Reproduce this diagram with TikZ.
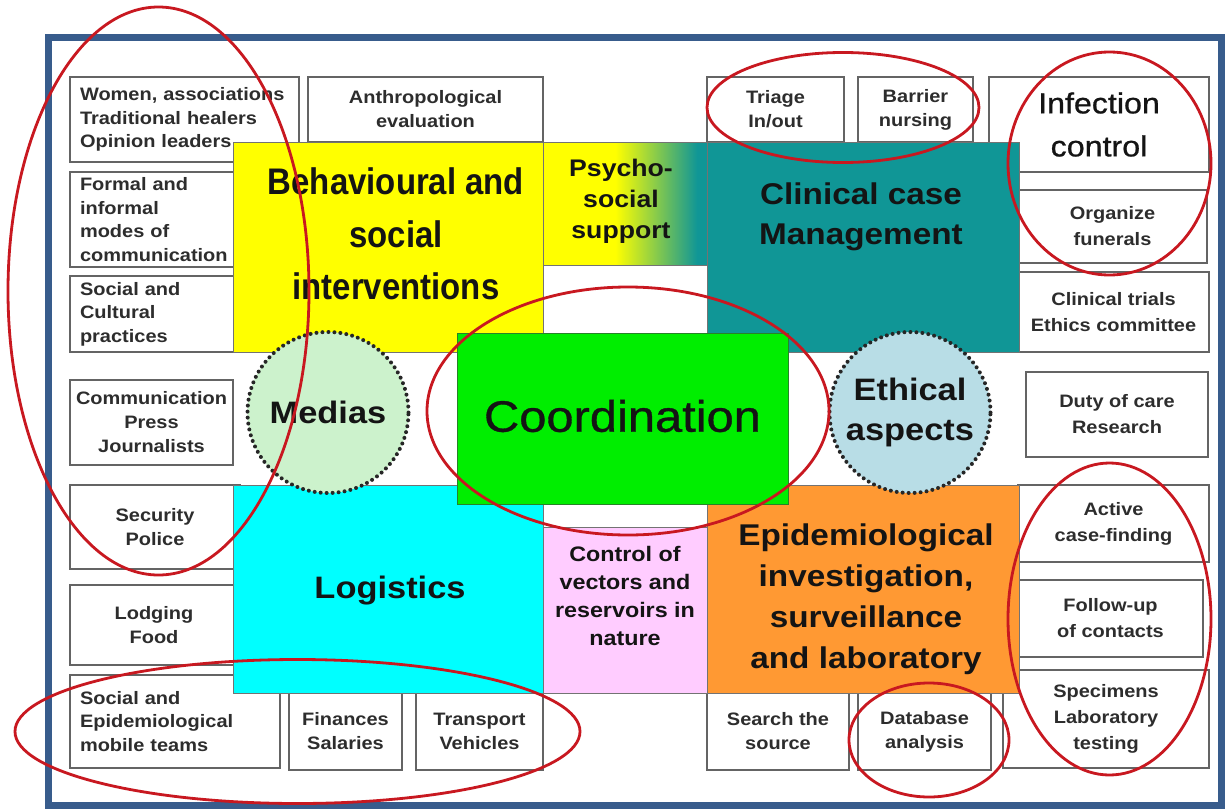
\documentclass[tikz,border=0pt]{standalone}
\usepackage{fontspec}
\setmainfont{Liberation Sans}[FakeStretch=1.11]
\newfontfamily\narrowsans{Liberation Sans}[FakeStretch=0.89]
\newfontfamily\mediumsans{Liberation Sans}[FakeStretch=1.11, FakeBold=0.8]

\definecolor{framecol}{RGB}{56,92,140}
\definecolor{ringred}{RGB}{200,24,32}
\definecolor{cellline}{RGB}{100,100,100}
\definecolor{celltext}{RGB}{45,45,45}
\definecolor{headink}{RGB}{20,20,20}
\definecolor{behavfill}{RGB}{255,255,0}
\definecolor{clinicfill}{RGB}{16,150,150}
\definecolor{coordfill}{RGB}{0,238,0}
\definecolor{coordline}{RGB}{40,130,40}
\definecolor{logfill}{RGB}{0,255,255}
\definecolor{vectfill}{RGB}{255,204,255}
\definecolor{epifill}{RGB}{255,153,51}
\definecolor{mediafill}{RGB}{204,242,204}
\definecolor{ethicfill}{RGB}{184,221,230}

\pgfdeclarehorizontalshading{psychofade}{100bp}{color(0bp)=(behavfill); color(47bp)=(behavfill); color(72bp)=(clinicfill); color(100bp)=(clinicfill)}

\begin{document}
\begin{tikzpicture}[x=1pt, y=-1pt]
%------------------------------------------------------------------------------------------------
% Styles

    \tikzset{cell/.style={draw=cellline, line width=1.4pt, fill=white, outer sep=0pt,
            inner sep=2pt, text=celltext, align=center,
            font=\fontsize{18}{24}\selectfont\bfseries},
        cell left/.style={cell, align=left, inner xsep=10pt,
            font=\fontsize{18}{23.5}\selectfont\bfseries},
        area/.style={draw=black!55, line width=0.8pt, outer sep=0pt, inner sep=0pt},
        heading/.style={align=center, inner sep=0pt, text=headink},
        bubble/.style={circle, minimum size=161pt, inner sep=0pt, draw=black!85,
            line width=4pt, dash pattern=on 0pt off 6pt, line cap=round,
            font=\fontsize{31}{40}\selectfont\bfseries, align=center, text=headink},
        ring/.style={draw=ringred, line width=2.8pt}
    }
    \useasboundingbox (0,0) rectangle (1226,811);
    \fill[white] (0,0) rectangle (1226,811);
    \draw[framecol, line width=7pt] (48,37) rectangle (1221,805);
%------------------------------------------------------------------------------------------------
% Small cells

    % left column, text set flush left
    \foreach \nm/\xa/\ya/\xb/\yb/\txt in {
        leaders/70/77/299/162/{Women, associations\\Traditional healers\\Opinion leaders},
        modes/70/172/243/267/{Formal and\\informal\\modes of\\communication},
        customs/70/276/243/352/{Social and\\Cultural\\practices},
        mobile/70/675/280/768/{Social and\\Epidemiological\\mobile teams}} {
        \pgfmathsetmacro\tw{\xb-\xa-20}
        \node[cell left, text width=\tw pt, minimum height={\yb-\ya}]
            (\nm) at ({(\xa+\xb)/2},{(\ya+\yb)/2}) {\txt};
    }
    % top and bottom rows
    \foreach \nm/\xa/\ya/\xb/\yb/\txt in {
        anthropo/308/77/543/142/{Anthropological\\evaluation},
        press/70/380/233/465/{Communication\\Press\\Journalists},
        police/70/485/240/569/{Security\\Police},
        lodging/70/585/238/665/{Lodging\\Food},
        finance/289/693/402/770/{Finances\\Salaries},
        transport/416/693/543/770/{Transport\\Vehicles},
        triage/707/77/844/142/{Triage\\In/out},
        barrier/858/77/973/142/{Barrier\\nursing},
        source/707/693/849/770/{Search the\\source},
        database/858/693/991/770/{Database\\analysis}} {
        \node[cell, minimum width={\xb-\xa}, minimum height={\yb-\ya}]
            (\nm) at ({(\xa+\xb)/2},{(\ya+\yb)/2}) {\txt};
    }
    % right column
    \foreach \nm/\xa/\ya/\xb/\yb/\txt in {
        funerals/1018/190/1207/263/{Organize\\funerals},
        trials/1018/272/1209/352/{Clinical trials\\Ethics committee},
        duty/1026/372/1208/457/{Duty of care\\Research},
        active/1018/485/1209/562/{Active\\case-finding},
        followup/1018/580/1203/657/{Follow-up\\of contacts},
        specimens/1003/670/1209/768/{Specimens\\Laboratory\\testing}} {
        \node[cell, font=\fontsize{18}{26}\selectfont\bfseries,
            minimum width={\xb-\xa}, minimum height={\yb-\ya}]
            (\nm) at ({(\xa+\xb)/2},{(\ya+\yb)/2}) {\txt};
    }
    \node[cell, font=\mediumsans\fontsize{29}{43}\selectfont, text=headink,
        minimum width=220, minimum height=95] (infection) at (1099,124.5) {Infection\\control};
%------------------------------------------------------------------------------------------------
% Coloured areas

    \foreach \nm/\xa/\ya/\xb/\yb/\col in {
        behav/233/142/543/352/behavfill,
        clinic/707/142/1019/352/clinicfill,
        logist/233/485/543/693/logfill,
        vectors/543/527/707/693/vectfill,
        epi/707/485/1019/693/epifill} {
        \node[area, fill=\col, minimum width={\xb-\xa}, minimum height={\yb-\ya}]
            (\nm) at ({(\xa+\xb)/2},{(\ya+\yb)/2}) {};
    }
    \node[area, shading=psychofade, minimum width=164, minimum height=123] (psycho) at (625,203.5) {};
    \node[area, draw=coordline, fill=coordfill, minimum width=331, minimum height=171] (coord) at (622.5,418.5) {};

    \node[bubble, fill=mediafill] (medias) at (328,412.5) {Medias};
    \node[bubble, fill=ethicfill] (ethics) at (910,412.5) {Ethical\\aspects};

    % headings, nudged inside their areas
    \foreach \nm/\dx/\dy/\fs/\bs/\txt in {
        clinic/-2/-30/30/40/{Clinical case\\Management},
        logist/2/2/31/40/{Logistics},
        epi/3/10/30/41/{Epidemiological\\investigation,\\surveillance\\and laboratory},
        psycho/-4/-2/24/31/{Psycho-\\social\\support},
        vectors/0/-14/21/27.7/{Control of\\vectors and\\reservoirs in\\nature}} {
        \node[heading, font=\fontsize{\fs}{\bs}\selectfont\bfseries]
            (\nm-text) at ([shift={(\dx,\dy)}]\nm.center) {\txt};
    }
    \node[heading, font=\narrowsans\fontsize{37}{52.5}\selectfont\bfseries]
        (behav-text) at ([shift={(8,-13)}]behav.center) {Behavioural and\\social\\interventions};
    \node[heading, font=\mediumsans\fontsize{44}{50}\selectfont]
        (coord-text) at ([shift={(0,-2.5)}]coord.center) {Coordination};
%------------------------------------------------------------------------------------------------
% Red marks

    \draw[ring] (158.5,291) ellipse [x radius=150.5, y radius=284];
    \draw[ring] (297.5,731.5) ellipse [x radius=282.5, y radius=72];
    \draw[ring] (843,107.5) ellipse [x radius=136, y radius=55];
    \draw[ring] (1109.5,163.5) ellipse [x radius=101.5, y radius=111.5];
    \draw[ring] (628,411) ellipse [x radius=201, y radius=124];
    \draw[ring] (1109.5,619) ellipse [x radius=101.5, y radius=156];
    \draw[ring] (929,740) ellipse [x radius=80, y radius=57];

\end{tikzpicture}
\end{document}
